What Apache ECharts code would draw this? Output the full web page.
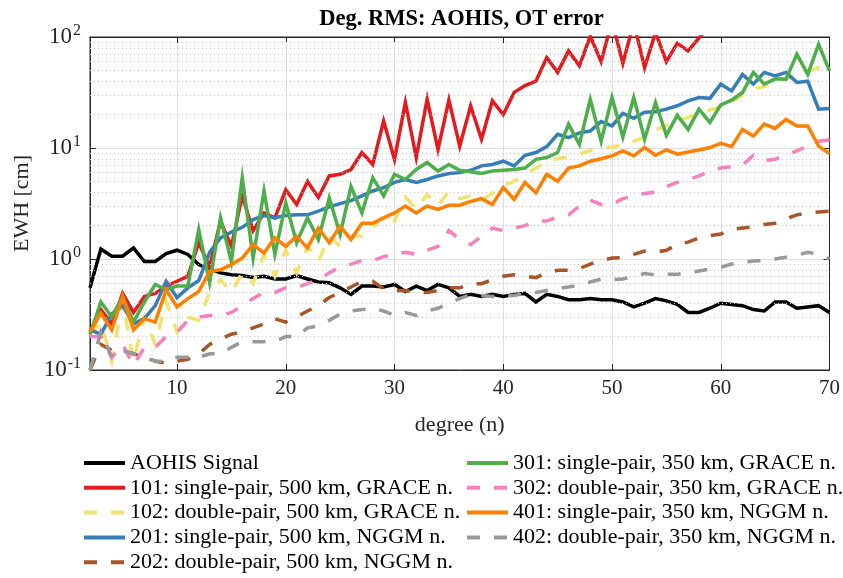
<!DOCTYPE html>
<html>
<head>
<meta charset="utf-8">
<script src="https://cdn.jsdelivr.net/npm/echarts@6/dist/echarts.min.js"></script>
<style>
html,body{margin:0;padding:0;background:#fff;}
#chart{width:843px;height:578px;}
</style>
</head>
<body>
<div id="chart"></div>
<script>
// ---- data ----
const degrees = [];
for (let n = 2; n <= 70; n++) degrees.push(n);

const aohisSignal = [0.55,1.23,1.06,1.06,1.26,0.95,0.95,1.12,1.2,1.1,0.89,0.81,0.75,0.72,0.71,0.68,0.70,0.66,0.66,0.71,0.66,0.62,0.61,0.55,0.48,0.57,0.57,0.56,0.59,0.51,0.57,0.52,0.59,0.55,0.46,0.48,0.46,0.48,0.46,0.48,0.49,0.41,0.48,0.46,0.43,0.43,0.44,0.43,0.43,0.41,0.37,0.40,0.44,0.42,0.39,0.33,0.33,0.36,0.40,0.39,0.38,0.35,0.34,0.41,0.41,0.36,0.37,0.38,0.33];

const s101 = [0.22,0.35,0.26,0.49,0.33,0.46,0.49,0.57,0.63,0.70,1.4,0.85,2.2,1.3,3.7,1.8,2.6,2.35,4.2,3.1,5.0,3.6,5.6,5.8,6.4,9.1,7.1,17.5,7.9,25.7,8.2,27.6,9.7,27,10.4,24,12,26.6,20,31.7,36.5,40,65,48,75,55,102,60,140,58,135,53,110,60,88,75,98,125,null,null,null,null,null,null,null,null,null,null,null];

const s102 = [0.21,0.27,0.12,0.42,0.12,0.3,0.17,0.42,0.22,0.3,0.28,0.5,0.65,0.5,0.75,0.6,1.1,0.7,1.2,0.75,1.3,0.95,1.6,1.3,1.6,1.6,1.9,2.5,2.2,3.6,2.8,3.8,3.0,4.1,3.5,3.7,3.4,3.9,4.6,5.0,5.8,6.6,7.5,8.0,8.3,8.8,9.5,9.8,10.2,10.8,11.5,12.5,14.5,16,17.5,19,20.5,22,23.5,26,30,34,36,38,42,45,49,53,50];

const s201 = [0.23,0.21,0.32,0.38,0.26,0.29,0.38,0.63,0.45,0.55,0.64,1.15,1.55,1.75,1.93,2.27,2.46,2.35,2.46,2.5,2.5,2.7,2.95,3.15,3.35,3.7,4.1,4.4,4.9,5.2,4.9,5.2,5.6,5.9,6.0,6.3,6.9,7.1,7.6,6.9,8.6,9.1,10.3,13.3,12.4,13.7,14.2,17.3,15.8,20.5,18.5,21,21.2,22.4,24,26.6,28.5,28,37.6,32.7,46,37.6,48,44.7,48,39,40,22.4,22.7];

const s202 = [0.1,0.17,0.15,0.15,0.14,0.13,0.12,0.115,0.12,0.125,0.14,0.17,0.19,0.21,0.22,0.24,0.26,0.29,0.27,0.3,0.34,0.38,0.45,0.5,0.56,0.63,0.63,0.54,0.52,0.52,0.5,0.5,0.52,0.55,0.55,0.6,0.6,0.65,0.7,0.72,0.7,0.68,0.75,0.79,0.79,0.82,0.9,0.97,1.02,1.03,1.1,1.18,1.15,1.2,1.35,1.42,1.55,1.62,1.68,1.85,1.9,1.95,2.05,2.1,2.3,2.5,2.6,2.65,2.7];

const s301 = [0.21,0.41,0.30,0.46,0.27,0.41,0.59,0.53,0.57,0.57,1.84,0.61,2.35,0.95,5.4,1.02,4.1,1.1,3.2,1.4,2.35,1.5,3.56,1.66,4.5,2.6,5.4,3.7,5.8,5.2,6.4,7.4,6.2,7.1,6.3,6.1,5.9,6.2,6.3,6.4,6.6,7.9,8.2,9.1,16.4,10.8,27.5,11.5,28.5,12.5,28.5,12,25.7,13,19.7,14.7,22.4,17,24.5,27,31.6,48,37.6,42,41.7,70,46,86,49.6];

const s302 = [0.2,0.2,0.13,0.17,0.11,0.16,0.16,0.2,0.22,0.28,0.3,0.31,0.31,0.33,0.38,0.44,0.5,0.5,0.55,0.55,0.6,0.65,0.75,0.85,0.9,0.97,0.97,1.05,1.1,1.15,1.1,1.2,1.3,1.8,1.5,1.35,1.6,1.9,1.8,1.9,2.0,2.2,2.2,2.4,2.5,3.0,3.4,3.1,3.1,3.5,3.7,3.9,4.0,4.5,4.9,5.2,5.6,6.2,6.6,6.8,7.0,8.6,7.7,7.9,8.7,9.4,10.5,11.5,11.8];

const s401 = [0.22,0.325,0.23,0.46,0.23,0.29,0.27,0.53,0.37,0.44,0.51,0.77,0.8,0.89,1.02,1.35,1.13,1.55,1.3,1.6,1.26,1.9,1.4,1.97,1.5,2.1,2.1,2.35,2.6,3.0,2.6,3.0,2.8,3.05,3.05,3.3,3.5,3.1,4.4,3.45,4.9,3.95,5.8,5.0,6.6,6.9,7.6,8.0,8.5,9.4,8.5,10.1,8.6,9.6,8.8,9.2,9.6,10.1,11.0,10.3,14.7,12.8,16.4,15,18.1,15.8,15.8,10.4,8.9];

const s402 = [0.1,0.22,0.13,0.15,0.14,0.13,0.12,0.12,0.13,0.13,0.13,0.14,0.14,0.16,0.18,0.18,0.18,0.18,0.2,0.2,0.24,0.25,0.28,0.32,0.34,0.35,0.36,0.34,0.31,0.33,0.31,0.34,0.36,0.4,0.44,0.48,0.47,0.46,0.47,0.47,0.49,0.5,0.52,0.54,0.56,0.58,0.62,0.66,0.65,0.66,0.7,0.74,0.72,0.73,0.73,0.75,0.78,0.81,0.84,0.9,0.93,0.96,0.97,1.0,1.04,1.08,1.15,1.1,1.0];

const seriesNames = [
  'AOHIS Signal',
  '101: single-pair, 500 km, GRACE n.',
  '102: double-pair, 500 km, GRACE n.',
  '201: single-pair, 500 km, NGGM n.',
  '202: double-pair, 500 km, NGGM n.',
  '301: single-pair, 350 km, GRACE n.',
  '302: double-pair, 350 km, GRACE n.',
  '401: single-pair, 350 km, NGGM n.',
  '402: double-pair, 350 km, NGGM n.'
];
const seriesValues = [aohisSignal, s101, s102, s201, s202, s301, s302, s401, s402];
const seriesColors = ['#000000','#e41a1c','#f2e36e','#377eb8','#a65628','#4daf4a','#f781bf','#ff7f00','#999999'];
const seriesDashed = [false,false,true,false,true,false,true,false,true];

const minorGridValues = [0.2,0.3,0.4,0.5,0.6,0.7,0.8,0.9,2,3,4,5,6,7,8,9,20,30,40,50,60,70,80,90];

const titleText = 'Deg. RMS: AOHIS, OT error';
const xName = 'degree (n)';
const yName = 'EWH [cm]';

// ---- chart ----
const FONT = "'Liberation Serif','Times New Roman',serif";
const AX = '#262626';
const chart = echarts.init(document.getElementById('chart'), null, {renderer: 'canvas'});

const series = seriesNames.map((name, i) => ({
  name: name,
  type: 'line',
  xAxisIndex: 0,
  yAxisIndex: 0,
  symbol: 'none',
  showSymbol: false,
  clip: true,
  z: 3 + i,
  lineStyle: {
    color: seriesColors[i],
    width: 3.5,
    type: seriesDashed[i] ? [13, 14] : 'solid',
    cap: 'butt',
    join: 'miter'
  },
  itemStyle: {color: seriesColors[i]},
  data: degrees.map((n, k) => [n, seriesValues[i][k]])
}));

series.unshift({
  name: 'minor-grid',
  type: 'line',
  xAxisIndex: 0,
  yAxisIndex: 0,
  data: [],
  silent: true,
  z: 1,
  markLine: {
    silent: true,
    symbol: 'none',
    animation: false,
    label: {show: false},
    lineStyle: {type: [1, 3], color: '#c4c4c4', width: 1},
    emphasis: {disabled: true},
    data: minorGridValues.map(v => ({yAxis: v}))
  }
});

const yLabelFmt = v => {
  const e = Math.round(Math.log10(v));
  return '{b|10}{s|' + e + '}';
};
const yRich = {
  b: {fontFamily: FONT, fontSize: 23, color: AX},
  s: {fontFamily: FONT, fontSize: 16, color: AX, padding: [0, 0, 12, 1]}
};

const legendText = {fontFamily: FONT, fontSize: 22, color: '#000', lineHeight: 22};
const legendCommon = {
  orient: 'vertical', top: 452, padding: 0,
  itemWidth: 41, itemHeight: 3, itemGap: 2.8,
  itemStyle: {opacity: 0, borderWidth: 0},
  lineStyle: {width: 4},
  textStyle: legendText, selectedMode: false
};

chart.setOption({
  animation: false,
  backgroundColor: '#fff',
  title: {
    text: titleText,
    left: 456.5,
    textAlign: 'center',
    top: 3,
    textStyle: {fontFamily: FONT, fontSize: 22.5, fontWeight: 'bold', color: '#000'}
  },
  grid: {
    left: 90, right: 10, top: 37, bottom: 208,
    show: true, borderColor: AX, borderWidth: 1, backgroundColor: 'transparent'
  },
  legend: [
    Object.assign({data: seriesNames.slice(0, 5), left: 82}, legendCommon),
    Object.assign({data: seriesNames.slice(5), left: 465}, legendCommon)
  ],
  xAxis: [
    {
      type: 'value', min: 2, max: 70, splitNumber: 7, position: 'bottom',
      name: xName, nameLocation: 'middle', nameGap: 44,
      nameTextStyle: {fontFamily: FONT, fontSize: 22, color: AX},
      axisLine: {show: true, lineStyle: {color: AX, width: 1}},
      axisTick: {show: true, inside: true, length: 6, lineStyle: {color: AX}},
      axisLabel: {fontFamily: FONT, fontSize: 21, color: AX, margin: 8, showMinLabel: false},
      splitLine: {show: true, lineStyle: {color: '#e0e0e0', width: 1}}
    },
    {
      type: 'value', min: 2, max: 70, splitNumber: 7, position: 'top',
      axisLine: {show: true, lineStyle: {color: AX, width: 1}},
      axisTick: {show: true, inside: true, length: 6, lineStyle: {color: AX}},
      axisLabel: {show: false},
      splitLine: {show: false}
    }
  ],
  yAxis: [
    {
      type: 'log', logBase: 10, min: 0.1, max: 100, position: 'left',
      name: yName, nameLocation: 'middle', nameGap: 57, nameRotate: 90,
      nameTextStyle: {fontFamily: FONT, fontSize: 22, color: AX},
      axisLine: {show: true, lineStyle: {color: AX, width: 1}},
      axisTick: {show: true, inside: true, length: 6, lineStyle: {color: AX}},
      axisLabel: {formatter: yLabelFmt, rich: yRich, margin: 9},
      splitLine: {show: true, lineStyle: {color: '#e0e0e0', width: 1}}
    },
    {
      type: 'log', logBase: 10, min: 0.1, max: 100, position: 'right',
      axisLine: {show: true, lineStyle: {color: AX, width: 1}},
      axisTick: {show: true, inside: true, length: 6, lineStyle: {color: AX}},
      axisLabel: {show: false},
      splitLine: {show: false}
    }
  ],
  series: series
});
</script>
</body>
</html>
